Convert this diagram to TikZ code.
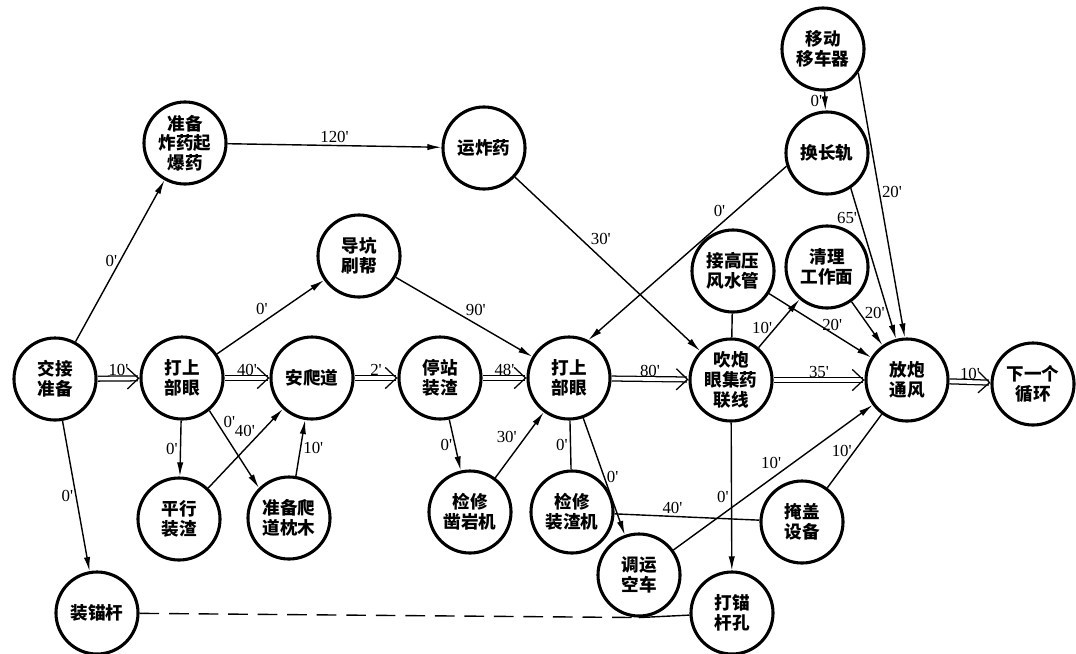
\documentclass[tikz,border=0pt]{standalone}
\usepackage{fontspec}
\usepackage{tikz}
\usetikzlibrary{arrows.meta,positioning}
\newfontfamily\cjk{Noto Sans CJK SC}
\newfontfamily\numfont{Liberation Serif}

\begin{document}
\begin{tikzpicture}[x=0.025cm, y=-0.025cm,
  work/.style={draw, circle, line width=2.2pt, minimum size=2.05cm, inner sep=0pt,
               font=\cjk\bfseries\fontsize{12.5}{14}\selectfont, align=center},
  arr/.style={line width=1pt, -{Latex[length=10pt,width=4.5pt]}},
  line/.style={line width=1pt},
  crit/.style={line width=0.9pt, double distance=2.6pt,
               -{Straight Barb[length=8pt,width=15pt,line width=0.9pt]}},
  lbl/.style={font=\numfont\fontsize{12}{13}\selectfont, inner sep=1.5pt}
]
  \useasboundingbox (0,0) rectangle (1076,653);

  % main line
  \node[work] (jiaojie)   at (55,379)   {交接\\准备};
  \node[work] (dayan1)    at (182,378)  {打上\\部眼};
  \node[work] (anpa)      at (312,378)  {安爬道};
  \node[work] (tingzhan)  at (440,378)  {停站\\装渣};
  \node[work] (dayan2)    at (569,378)  {打上\\部眼};
  \node[work] (chuipao)   at (731,380)  {吹炮\\眼集药\\联线};
  \node[work] (fangpao)   at (907,380)  {放炮\\通风};
  \node[work] (xiayi)     at (1033,384) {下一个\\循环};
  % upper part
  \node[work] (zhunbei)   at (185,143)  {准备\\炸药起\\爆药};
  \node[work] (yunyao)    at (484,148)  {运炸药};
  \node[work] (daokeng)   at (359,256)  {导坑\\刷帮};
  \node[work] (yidong)    at (823,49)   {移动\\移车器};
  \node[work] (huangui)   at (827,153)  {换长轨};
  \node[work] (fengshui)  at (733,271)  {接高压\\风水管};
  \node[work] (qingli)    at (827,267)  {清理\\工作面};
  % lower part
  \node[work] (pingxing)  at (179,519)  {平行\\装渣};
  \node[work] (zhenmu)    at (289,518)  {准备爬\\道枕木};
  \node[work] (zaoyan)    at (470,512)  {检修\\凿岩机};
  \node[work] (zhuangzha) at (572,512)  {检修\\装渣机};
  \node[work] (diaoyun)   at (639,575)  {调运\\空车};
  \node[work] (yangai)    at (802,522)  {掩盖\\设备};
  \node[work] (maokong)   at (732,613)  {打锚\\杆孔};
  \node[work] (maogan)    at (97,613)   {装锚杆};

  % critical path
  \draw[crit] (jiaojie) -- node[lbl,above]{10'} (dayan1);
  \draw[crit] (dayan1) -- node[lbl,above]{40'} (anpa);
  \draw[crit] (anpa) -- node[lbl,above]{2'} (tingzhan);
  \draw[crit] (tingzhan) -- node[lbl,above]{48'} (dayan2);
  \draw[crit] (dayan2) -- node[lbl,above]{80'} (chuipao);
  \draw[crit] (chuipao) -- node[lbl,above]{35'} (fangpao);
  \draw[crit] (fangpao) -- node[lbl,above]{10'} (xiayi);

  % left part
  \draw[arr] (jiaojie) -- node[lbl,left]{0'} (zhunbei);
  \draw[arr] (jiaojie) -- node[lbl,left]{0'} (maogan);
  \draw[arr] (zhunbei) -- node[lbl,above]{120'} (yunyao);
  \draw[arr] (dayan1) -- node[lbl,above left]{0'} (daokeng);
  \draw[arr] (dayan1) -- node[lbl,left]{0'} (pingxing);
  \draw[arr] (dayan1.-50) -- node[lbl,pos=0.25,above right=-1pt]{0'} (zhenmu.135);
  \draw[arr] (pingxing) -- node[lbl,pos=0.72,left=3pt]{40'} (anpa);
  \draw[arr] (zhenmu) -- node[lbl,right]{10'} (anpa);
  \draw[arr] (tingzhan) -- node[lbl,left]{0'} (zaoyan);
  \draw[arr] (zaoyan) -- node[lbl,above left]{30'} (dayan2);
  \draw[arr] (daokeng) -- node[lbl,above right=-1pt]{90'} (dayan2);

  % right part
  \draw[arr] (yunyao) -- node[lbl,pos=0.4,above right=-1pt]{30'} (chuipao);
  \draw[arr] (huangui.198) -- node[lbl,pos=0.3,above left=-1pt]{0'} (dayan2.63);
  \draw[line] (dayan2) -- node[lbl,left]{0'} (zhuangzha);
  \draw[arr] (dayan2) -- node[lbl,right]{0'} (diaoyun);
  \draw[line] (zhuangzha) -- node[lbl,pos=0.4,above]{40'} (yangai);
  \draw[arr] (diaoyun) -- node[lbl,pos=0.55,above left=-1pt]{10'} (fangpao);
  \draw[line] (yangai) -- node[lbl,left]{10'} (fangpao);
  \draw[arr] (chuipao) -- node[lbl,left]{0'} (maokong);
  \draw[line] (chuipao) -- (fengshui);
  \draw[arr] (chuipao) -- node[lbl,pos=0.4,left]{10'} (qingli);
  \draw[arr] (fengshui) -- node[lbl,pos=0.62,above]{20'} (fangpao);
  \draw[arr] (qingli) -- node[lbl,pos=0.4,above right=-2pt]{20'} (fangpao);
  \draw[arr] (huangui.-56) -- node[lbl,pos=0.2,left]{65'} (fangpao.105);
  \draw[arr] (yidong.-34) -- node[lbl,pos=0.45,right]{20'} (fangpao.93);
  \draw[arr] (yidong) -- node[lbl,left]{0'} (huangui);

  % bottom
  \draw[line,dashed,dash pattern=on 14pt off 7pt] (maogan) -- (diaoyun.south);
  \draw[line] (diaoyun.south) -- (maokong);

\end{tikzpicture}
\end{document}
